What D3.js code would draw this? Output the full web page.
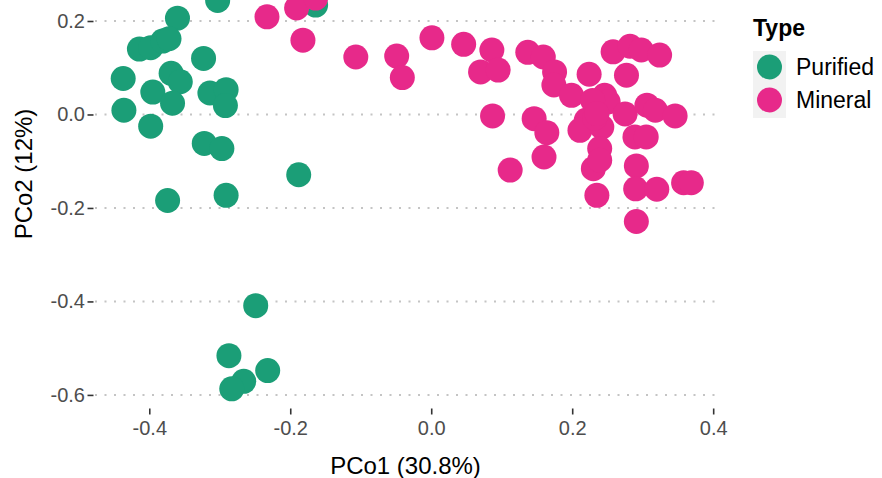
<!DOCTYPE html>
<html>
<head>
<meta charset="utf-8">
<script src="https://cdn.jsdelivr.net/npm/d3@7/dist/d3.min.js"></script>
<style>
  body { margin: 0; background: #fff; }
  svg { display: block; font-family: "Liberation Sans", Arial, Helvetica, sans-serif; }
</style>
</head>
<body>
<div id="chart"></div>
<script>
// PCoA scores (PCo1, PCo2)
const types = ["Purified", "Mineral"];
const colors = ["#1b9e77", "#e7298a"];

const purifiedX = [-0.360, -0.414, -0.398, -0.381, -0.372, -0.323, -0.437, -0.369, -0.356, -0.395,
  -0.367, -0.314, -0.291, -0.292, -0.436, -0.398, -0.322, -0.297, -0.188, -0.374,
  -0.291, -0.249, -0.287, -0.232, -0.266, -0.283, -0.303, -0.164];
const purifiedY = [0.206, 0.140, 0.143, 0.157, 0.162, 0.120, 0.077, 0.088, 0.070, 0.048,
  0.024, 0.046, 0.053, 0.019, 0.009, -0.025, -0.062, -0.073, -0.129, -0.184,
  -0.173, -0.409, -0.516, -0.548, -0.571, -0.587, 0.244, 0.234];

const mineralX = [-0.233, -0.182, -0.191, -0.164, -0.107, -0.049, -0.041, 0.001, 0.046, 0.086,
  0.070, 0.095, 0.137, 0.159, 0.175, 0.174, 0.199, 0.224, 0.258, 0.282,
  0.298, 0.324, 0.277, 0.246, 0.251, 0.275, 0.306, 0.318, 0.346, 0.087,
  0.146, 0.164, 0.160, 0.112, 0.220, 0.211, 0.242, 0.232, 0.239, 0.230,
  0.239, 0.235, 0.289, 0.305, 0.291, 0.290, 0.320, 0.358, 0.369, 0.291,
  0.229, 0.235];
const mineralY = [0.209, 0.159, 0.228, 0.249, 0.123, 0.125, 0.079, 0.164, 0.150, 0.138,
  0.091, 0.095, 0.133, 0.123, 0.091, 0.063, 0.041, 0.086, 0.134, 0.146,
  0.138, 0.127, 0.084, 0.041, 0.027, 0.001, 0.020, 0.009, -0.003, -0.003,
  -0.009, -0.039, -0.091, -0.119, -0.012, -0.034, -0.027, -0.008, -0.073, -0.116,
  -0.098, -0.173, -0.048, -0.048, -0.110, -0.159, -0.160, -0.146, -0.146, -0.229,
  0.030, 0.002];

const xTicks = [-0.4, -0.2, 0.0, 0.2, 0.4];
const yTicks = [-0.6, -0.4, -0.2, 0.0, 0.2];

const points = [];
purifiedX.forEach((v, i) => points.push({ x: v, y: purifiedY[i], type: types[0] }));
mineralX.forEach((v, i) => points.push({ x: v, y: mineralY[i], type: types[1] }));

const W = 882, H = 478;
const panel = { left: 95, right: 716, bottom: 408 };
const font = 'Liberation Sans, Arial, sans-serif';

const svg = d3.select("#chart").append("svg")
  .attr("width", W)
  .attr("height", H);

let x = d3.scaleLinear()
  .domain([-0.477, 0.404])
  .range([panel.left, panel.right]);

let y = d3.scaleLinear()
  .domain([-0.628, 0.2])
  .range([panel.bottom, 21]);

let color = d3.scaleOrdinal().domain(types).range(colors);

// dotted horizontal grid
svg.append("g").selectAll("line")
  .data(yTicks)
  .enter().append("line")
  .attr("x1", panel.left)
  .attr("x2", panel.right)
  .attr("y1", d => y(d))
  .attr("y2", d => y(d))
  .attr("stroke", "#c4c4c4")
  .attr("stroke-width", 2)
  .attr("stroke-dasharray", "2,7.5");

// points, purified first so mineral sits on top
svg.append("g").selectAll("circle")
  .data(points)
  .enter().append("circle")
  .attr("cx", d => x(d.x))
  .attr("cy", d => y(d.y))
  .attr("r", 12.5)
  .attr("fill", d => color(d.type));

// axes
let xAxis = svg.append("g")
  .attr("transform", "translate(0," + (panel.bottom + 0.5) + ")")
  .call(d3.axisBottom(x).tickValues(xTicks).tickFormat(d => d.toFixed(1)).tickSize(6).tickPadding(6));

let yAxis = svg.append("g")
  .attr("transform", "translate(93.5,0)")
  .call(d3.axisLeft(y).tickValues(yTicks).tickFormat(d => d.toFixed(1)).tickSize(6).tickPadding(2.5));

[xAxis, yAxis].forEach(a => {
  a.select(".domain").remove();
  a.selectAll(".tick line").attr("stroke", "#333333").attr("stroke-width", 1.6);
  a.selectAll(".tick text")
    .attr("fill", "#4d4d4d")
    .style("font-size", "20px")
    .style("font-family", font);
});

// axis titles
svg.append("text")
  .attr("x", (panel.left + panel.right) / 2)
  .attr("y", 474)
  .attr("text-anchor", "middle")
  .style("font-size", "24px")
  .text("PCo1 (30.8%)");

svg.append("text")
  .attr("transform", "translate(32,174) rotate(-90)")
  .attr("text-anchor", "middle")
  .style("font-size", "24px")
  .text("PCo2 (12%)");

// legend
let legend = svg.append("g").attr("transform", "translate(753,0)");
legend.append("text")
  .attr("x", 0)
  .attr("y", 36)
  .style("font-size", "23px")
  .style("font-weight", "bold")
  .text("Type");

legend.append("rect")
  .attr("x", 0).attr("y", 51)
  .attr("width", 33).attr("height", 67)
  .attr("fill", "#f2f2f2");

let keys = legend.selectAll(".key")
  .data(types)
  .enter().append("g")
  .attr("class", "key")
  .attr("transform", (d, i) => "translate(0," + (67 + i * 33) + ")");

keys.append("circle")
  .attr("cx", 16.5)
  .attr("cy", 0)
  .attr("r", 12.5)
  .attr("fill", d => color(d));

keys.append("text")
  .attr("x", 43)
  .attr("y", 8)
  .style("font-size", "23px")
  .text(d => d);
</script>
</body>
</html>
